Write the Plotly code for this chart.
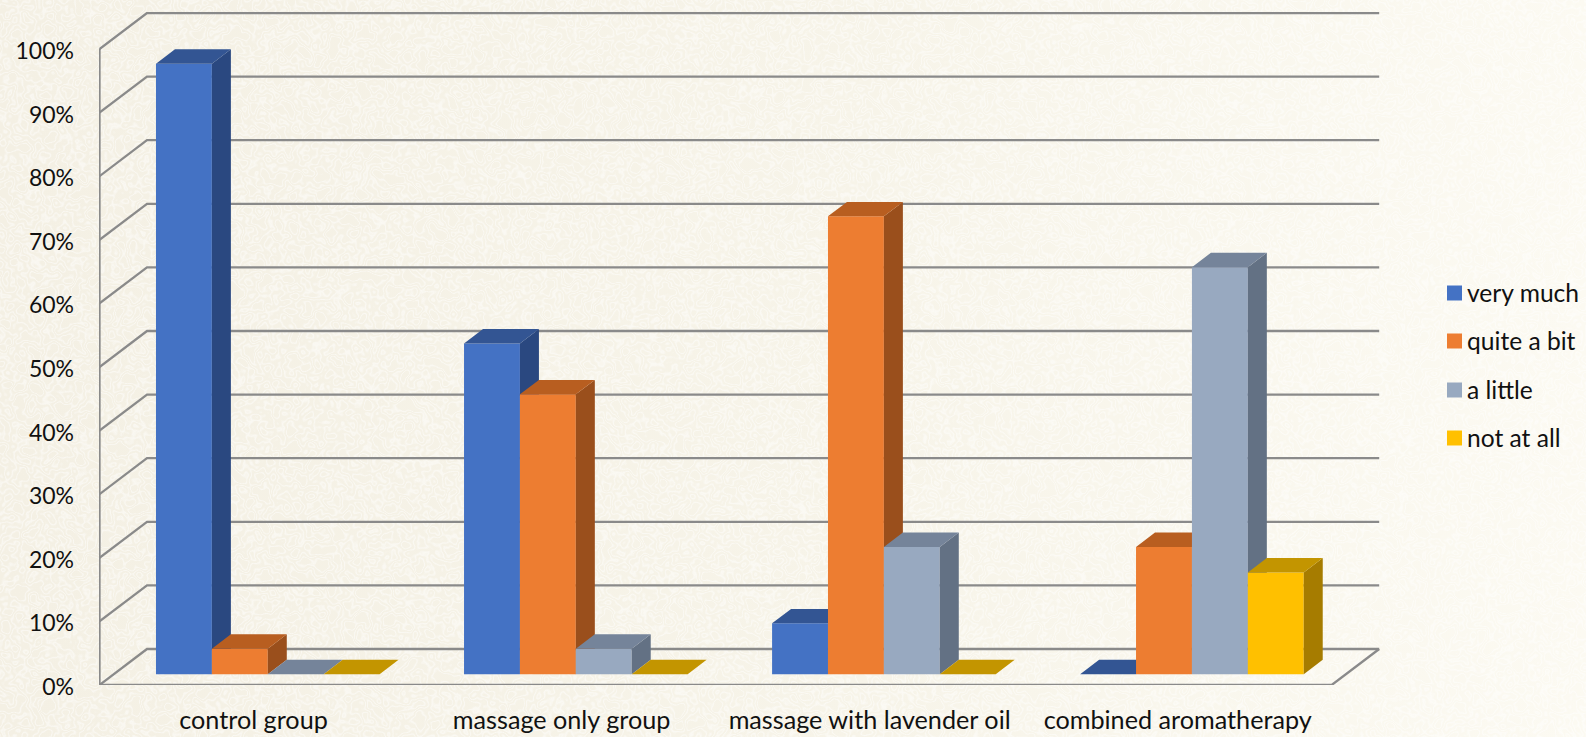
import urllib.parse
import plotly.graph_objects as go

# Chart data
categories = ["control group", "massage only group", "massage with lavender oil", "combined aromatherapy"]
series_names = ["very much", "quite a bit", "a little", "not at all"]
very_much = [96, 52, 8, 0]
quite_a_bit = [4, 44, 72, 20]
a_little = [0, 4, 20, 64]
not_at_all = [0, 0, 0, 16]
tick_values = list(range(0, 101, 10))
tick_labels = [f"{v}%" for v in tick_values]

series_values = [very_much, quite_a_bit, a_little, not_at_all]
front_colors = ["#4472C4", "#ED7D31", "#98A9C0", "#FFC000"]
top_colors = ["#335593", "#B85E20", "#75849A", "#C39500"]
side_colors = ["#2A4880", "#9A4F1C", "#637184", "#A67C00"]

W, H = 1586, 737
ML, MR, MT, MB = 99, 206, 12, 52
GRID = "#8A8A8A"
FONT = "Lato"
TEXT_COLOR = "#111111"

# Scales: one x unit is a category band, y is in percent
PX_PER_CAT = 308.05
PX_PER_PCT = 6.36
X_ORIGIN_PX = 99.5
x_range = [(ML - X_ORIGIN_PX) / PX_PER_CAT, (W - MR - X_ORIGIN_PX) / PX_PER_CAT]
y_range = [0, (H - MT - MB) / PX_PER_PCT]

# Oblique depth of the floor, expressed in data units
FLOOR_DX = 47.5 / PX_PER_CAT
FLOOR_DY = 36 / PX_PER_PCT
BAR_WIDTH = 55.9 / PX_PER_CAT
BAR_NEAR, BAR_FAR = 0.3, 0.7
N_CAT = len(categories)

fig = go.Figure()


def project(x, y, depth):
    return x + depth * FLOOR_DX, y + depth * FLOOR_DY


# Walls and floor
grid_x, grid_y = [], []
for v in tick_values:
    bx, by = project(0, v, 1)
    ex, ey = project(N_CAT, v, 1)
    grid_x += [0, bx, ex, None]
    grid_y += [v, by, ey, None]
grid_x += [0, 0, None, 0, N_CAT, project(N_CAT, 0, 1)[0]]
grid_y += [0, 100, None, 0, 0, project(N_CAT, 0, 1)[1]]
fig.add_trace(go.Scatter(
    x=grid_x, y=grid_y, mode="lines", line=dict(color=GRID, width=2.3),
    hoverinfo="skip", showlegend=False, cliponaxis=False,
))

# Each series sits on its own overlaid axes so later bars paint over earlier faces
for s, (name, values) in enumerate(zip(series_names, series_values)):
    axis_n = s + 2
    xa, ya = f"x{axis_n}", f"y{axis_n}"
    near_dx, near_dy = project(0, 0, BAR_NEAR)
    far_dx, far_dy = project(0, 0, BAR_FAR)
    lefts = [c + 0.5 + near_dx + (s - 2) * BAR_WIDTH for c in range(N_CAT)]

    fig.add_trace(go.Bar(
        x=[l + BAR_WIDTH / 2 for l in lefts], y=values, base=near_dy, width=BAR_WIDTH,
        marker=dict(color=front_colors[s], line=dict(width=0)),
        name=name, showlegend=False, xaxis=xa, yaxis=ya,
    ))

    top_x, top_y, side_x, side_y = [], [], [], []
    step_x, step_y = far_dx - near_dx, far_dy - near_dy
    for l, v in zip(lefts, values):
        r = l + BAR_WIDTH
        t = near_dy + v
        top_x += [l, r, r + step_x, l + step_x, l, None]
        top_y += [t, t, t + step_y, t + step_y, t, None]
        if v > 0:
            side_x += [r, r + step_x, r + step_x, r, r, None]
            side_y += [near_dy, near_dy + step_y, t + step_y, t, near_dy, None]
    fig.add_trace(go.Scatter(
        x=side_x, y=side_y, mode="lines", fill="toself", fillcolor=side_colors[s],
        line=dict(width=0), hoverinfo="skip", showlegend=False, xaxis=xa, yaxis=ya,
    ))
    fig.add_trace(go.Scatter(
        x=top_x, y=top_y, mode="lines", fill="toself", fillcolor=top_colors[s],
        line=dict(width=0), hoverinfo="skip", showlegend=False, xaxis=xa, yaxis=ya,
    ))

# Paper background with a fine worm-like grain
background_svg = f"""<svg xmlns='http://www.w3.org/2000/svg' width='{W}' height='{H}'>
<defs>
<linearGradient id='g' x1='0' x2='1' y1='0' y2='0'>
<stop offset='0' stop-color='#F4F0E4'/><stop offset='0.55' stop-color='#F7F4E9'/><stop offset='1' stop-color='#FCFAF2'/>
</linearGradient>
<filter id='w' x='0' y='0' width='100%' height='100%'>
<feTurbulence type='fractalNoise' baseFrequency='0.07' numOctaves='2' seed='7'/>
<feColorMatrix type='matrix' values='0 0 0 0 1  0 0 0 0 1  0 0 0 0 1  1.6 0 0 0 -0.3'/>
<feComponentTransfer><feFuncA type='table' tableValues='0 0 0 0 .6 0 0 .6 0 0 .6 0 0 0'/></feComponentTransfer>
</filter>
</defs>
<rect width='{W}' height='{H}' fill='url(#g)'/>
<rect width='{W}' height='{H}' filter='url(#w)' opacity='0.85'/>
</svg>"""
background_uri = "data:image/svg+xml;charset=utf-8," + urllib.parse.quote(background_svg)

plot_w, plot_h = W - ML - MR, H - MT - MB


def paper_x(px):
    return (px - ML) / plot_w


def paper_y(py):
    return (H - MB - py) / plot_h


# Legend entries
shapes, annotations = [], []
for name, color, cy in zip(series_names, front_colors, [293, 341, 390, 438]):
    shapes.append(dict(
        type="rect", xref="paper", yref="paper",
        x0=paper_x(1447), x1=paper_x(1462), y0=paper_y(cy + 7.5), y1=paper_y(cy - 7.5),
        fillcolor=color, line=dict(width=0), layer="above",
    ))
    annotations.append(dict(
        text=name, xref="paper", yref="paper", x=paper_x(1465), y=paper_y(cy - 1),
        xanchor="left", yanchor="middle", showarrow=False,
        font=dict(family=FONT, size=24.6, color=TEXT_COLOR),
    ))

layout_axes = {}
for n in range(2, 6):
    layout_axes[f"xaxis{n}"] = dict(range=x_range, overlaying="x", visible=False, fixedrange=True)
    layout_axes[f"yaxis{n}"] = dict(range=y_range, overlaying="y", visible=False, fixedrange=True)

fig.update_layout(
    width=W, height=H,
    margin=dict(l=ML, r=MR, t=MT, b=MB, pad=0, autoexpand=False),
    paper_bgcolor="#F7F4E9", plot_bgcolor="rgba(0,0,0,0)",
    showlegend=False, barmode="overlay", hovermode=False,
    font=dict(family=FONT, size=24, color=TEXT_COLOR),
    xaxis=dict(
        range=x_range, tickvals=[c + 0.5 for c in range(N_CAT)], ticktext=categories,
        showgrid=False, zeroline=False, showline=False, ticks="", ticklabelstandoff=18,
        automargin=False, tickfont=dict(family=FONT, size=25.2, color=TEXT_COLOR), fixedrange=True,
    ),
    yaxis=dict(
        range=y_range, tickvals=tick_values, ticktext=tick_labels,
        showgrid=False, zeroline=False, showline=False, ticks="", ticklabelstandoff=24,
        ticklabelshift=2,
        automargin=False, tickfont=dict(family=FONT, size=23, color=TEXT_COLOR), fixedrange=True,
    ),
    images=[dict(
        source=background_uri, xref="paper", yref="paper",
        x=paper_x(0), y=paper_y(0), sizex=W / plot_w, sizey=H / plot_h,
        xanchor="left", yanchor="top", sizing="stretch", layer="below",
    )],
    shapes=shapes, annotations=annotations,
    **layout_axes,
)

fig.write_html("out.html", config=dict(displayModeBar=False))
